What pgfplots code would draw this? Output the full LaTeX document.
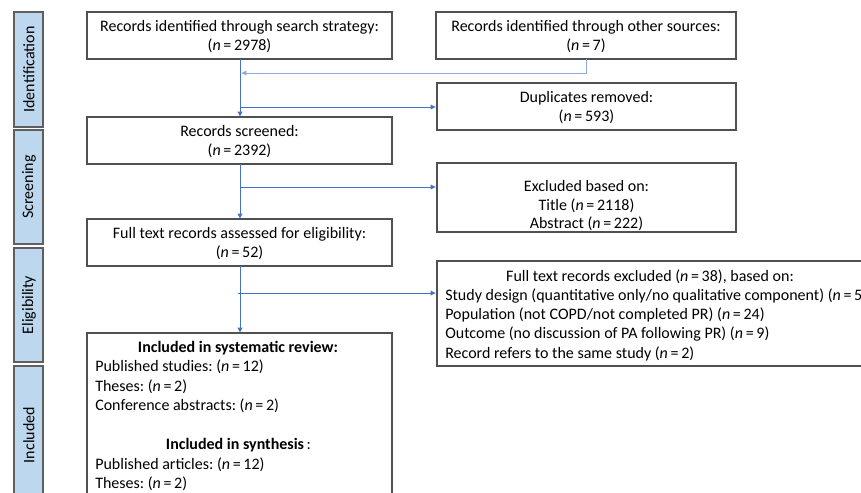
\documentclass[border=0pt]{standalone}
\usepackage{pgfplots}
\pgfplotsset{compat=1.18}
\usepackage{fontspec}
\setmainfont{Carlito}
\usetikzlibrary{arrows.meta}
\definecolor{lblfill}{HTML}{BDD7EE}
\definecolor{lbldraw}{HTML}{5F5F5F}
\definecolor{boxdraw}{HTML}{505050}
\definecolor{arr}{HTML}{4472C4}
\definecolor{arrlight}{HTML}{8FAADC}
\newcommand{\nn}[1]{\textit{n}\,=\,#1}
\frenchspacing
\begin{document}
\frenchspacing
\begin{tikzpicture}[
  txt/.style={font=\fontsize{12}{14.6}\selectfont\frenchspacing, inner sep=0pt, text=black},
  ar/.style={draw=arr, line width=0.6pt, -{Latex[length=4pt,width=4pt]}}
]
\begin{axis}[
  scale only axis, width=645.75pt, height=369pt,
  xmin=0, xmax=861, ymin=0, ymax=492, y dir=reverse,
  axis lines=none, clip=true, clip mode=global
]
% stage labels
\addplot[draw=lbldraw, fill=lblfill, line width=1.1pt] coordinates {(14,12) (43,12) (43,127) (14,127)} -- cycle;
\addplot[draw=lbldraw, fill=lblfill, line width=1.1pt] coordinates {(14,130) (43,130) (43,244) (14,244)} -- cycle;
\addplot[draw=lbldraw, fill=lblfill, line width=1.1pt] coordinates {(14,248) (43,248) (43,362) (14,362)} -- cycle;
\addplot[draw=lbldraw, fill=lblfill, line width=1.1pt] coordinates {(14,366) (43,366) (43,510) (14,510)} -- cycle;
\node[txt, rotate=90] at (axis cs:29,69.5) {Identification};
\node[txt, rotate=90] at (axis cs:29,187) {Screening};
\node[txt, rotate=90] at (axis cs:29,305) {Eligibility};
\node[txt, rotate=90] at (axis cs:29,435) {Included};
% boxes
\addplot[draw=boxdraw, fill=white, line width=0.9pt] coordinates {(87,12) (392,12) (392,59) (87,59)} -- cycle;
\addplot[draw=boxdraw, fill=white, line width=0.9pt] coordinates {(436,12) (736,12) (736,59) (436,59)} -- cycle;
\addplot[draw=boxdraw, fill=white, line width=0.9pt] coordinates {(437,83) (736,83) (736,130) (437,130)} -- cycle;
\addplot[draw=boxdraw, fill=white, line width=0.9pt] coordinates {(87,117) (392,117) (392,164) (87,164)} -- cycle;
\addplot[draw=boxdraw, fill=white, line width=0.9pt] coordinates {(437,163) (736,163) (736,232) (437,232)} -- cycle;
\addplot[draw=boxdraw, fill=white, line width=0.9pt] coordinates {(87,219) (392,219) (392,266) (87,266)} -- cycle;
\addplot[draw=boxdraw, fill=white, line width=0.9pt] coordinates {(437,261) (920,261) (920,366) (437,366)} -- cycle;
\addplot[draw=boxdraw, fill=white, line width=0.9pt] coordinates {(87,333) (392,333) (392,520) (87,520)} -- cycle;
% arrows
\addplot[draw=arrlight, line width=0.6pt, -{Latex[length=4pt,width=4pt]}] coordinates {(586,59) (586,73) (241,73)};
\addplot[ar] coordinates {(240,59) (240,117)};
\addplot[ar] coordinates {(240,107) (436,107)};
\addplot[ar] coordinates {(240,164) (240,219)};
\addplot[ar] coordinates {(240,187) (436,187)};
\addplot[ar] coordinates {(240,266) (240,333)};
\addplot[ar] coordinates {(238,293) (436,293)};
% texts
\node[txt, anchor=base] at (axis cs:239.5,31) {Records identified through search strategy:};
\node[txt, anchor=base] at (axis cs:239.5,50) {(\nn{2978})};
\node[txt, anchor=base] at (axis cs:586,31) {Records identified through other sources:};
\node[txt, anchor=base] at (axis cs:586,50) {(\nn{7})};
\node[txt, anchor=base] at (axis cs:586.5,102) {Duplicates removed:};
\node[txt, anchor=base] at (axis cs:586.5,121) {(\nn{593})};
\node[txt, anchor=base] at (axis cs:239.5,136) {Records screened:};
\node[txt, anchor=base] at (axis cs:239.5,155) {(\nn{2392})};
\node[txt, anchor=base] at (axis cs:586.5,191) {Excluded based on:};
\node[txt, anchor=base] at (axis cs:586.5,210) {Title (\nn{2118})};
\node[txt, anchor=base] at (axis cs:586.5,228) {Abstract (\nn{222})};
\node[txt, anchor=base] at (axis cs:239.5,238) {Full text records assessed for eligibility:};
\node[txt, anchor=base] at (axis cs:239.5,257) {(\nn{52})};
\node[txt, anchor=base] at (axis cs:650,281) {Full text records excluded (\nn{38}), based on:};
\node[txt, anchor=base west] at (axis cs:445,300) {Study design (quantitative only/no qualitative component) (\nn{5})};
\node[txt, anchor=base west] at (axis cs:445,319) {Population (not COPD/not completed PR) (\nn{24})};
\node[txt, anchor=base west] at (axis cs:445,338.5) {Outcome (no discussion of PA following PR) (\nn{9})};
\node[txt, anchor=base west] at (axis cs:445,358) {Record refers to the same study (\nn{2})};
\node[txt, anchor=base] at (axis cs:238,352) {\textbf{Included in systematic review:}};
\node[txt, anchor=base west] at (axis cs:95,371) {Published studies: (\nn{12})};
\node[txt, anchor=base west] at (axis cs:95,391) {Theses: (\nn{2})};
\node[txt, anchor=base west] at (axis cs:95,410) {Conference abstracts: (\nn{2})};
\node[txt, anchor=base] at (axis cs:238.5,449) {\textbf{Included in synthesis}\,:};
\node[txt, anchor=base west] at (axis cs:95,469) {Published articles: (\nn{12})};
\node[txt, anchor=base west] at (axis cs:95,488) {Theses: (\nn{2})};
\end{axis}
\pgfresetboundingbox
\useasboundingbox (current axis.south west) rectangle (current axis.north east);
\end{tikzpicture}
\end{document}
